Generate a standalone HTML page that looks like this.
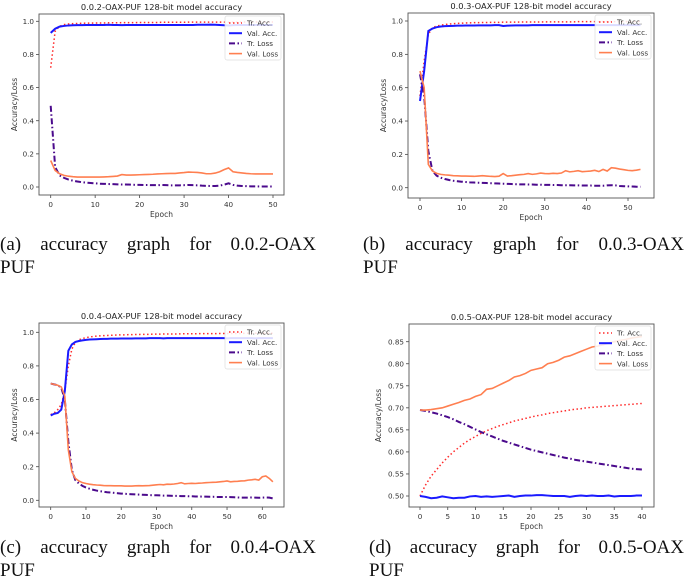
<!DOCTYPE html>
<html><head><meta charset="utf-8"><style>
body{margin:0;background:#fff;width:685px;height:586px;overflow:hidden;position:relative}
svg{position:absolute;left:0;top:0}
.cap{position:absolute;font-family:"Liberation Serif",serif;font-size:19px;line-height:23px;color:#111;text-align:justify;text-align-last:left}
.cap .l1{display:block;text-align:justify;text-align-last:justify}
</style></head><body>
<svg id="fig" width="685" height="586" viewBox="0 0 685 586"></svg>
<div class="cap" style="left:0;top:233px;width:316px"><span class="l1">(a) accuracy graph for 0.0.2-OAX</span>PUF</div>
<div class="cap" style="left:363px;top:233px;width:321px"><span class="l1">(b) accuracy graph for 0.0.3-OAX</span>PUF</div>
<div class="cap" style="left:0;top:536px;width:316px"><span class="l1">(c) accuracy graph for 0.0.4-OAX</span>PUF</div>
<div class="cap" style="left:369px;top:536px;width:315px"><span class="l1">(d) accuracy graph for 0.0.5-OAX</span>PUF</div>
<script>
// ---- panel a data ----
const aTrAcc=[0.72,0.94,0.97,0.98,0.984,0.986,0.987,0.988,0.989,0.989,0.99,0.99,0.99,0.991,0.991,0.991,0.992,0.992,0.992,0.992,0.993,0.993,0.993,0.993,0.993,0.994,0.994,0.994,0.994,0.994,0.994,0.995,0.995,0.995,0.995,0.995,0.995,0.995,0.995,0.995,0.994,0.995,0.995,0.996,0.996,0.996,0.996,0.996,0.996,0.996,0.996];
const aValAcc=[0.93,0.955,0.968,0.972,0.975,0.976,0.977,0.977,0.978,0.978,0.978,0.978,0.978,0.979,0.978,0.978,0.977,0.978,0.978,0.978,0.978,0.978,0.978,0.978,0.978,0.978,0.978,0.978,0.978,0.978,0.978,0.978,0.978,0.979,0.979,0.979,0.98,0.979,0.978,0.976,0.975,0.977,0.978,0.978,0.978,0.978,0.978,0.978,0.978,0.978,0.978];
const aTrLoss=[0.49,0.12,0.07,0.055,0.045,0.038,0.033,0.029,0.026,0.024,0.022,0.02,0.019,0.018,0.017,0.016,0.015,0.015,0.014,0.013,0.013,0.012,0.012,0.011,0.011,0.012,0.011,0.01,0.01,0.01,0.011,0.012,0.011,0.01,0.008,0.007,0.006,0.006,0.008,0.014,0.022,0.013,0.008,0.006,0.005,0.004,0.004,0.003,0.003,0.003,0.003];
const aValLoss=[0.16,0.1,0.08,0.07,0.065,0.062,0.06,0.06,0.06,0.06,0.06,0.06,0.061,0.062,0.064,0.066,0.075,0.072,0.072,0.073,0.074,0.075,0.076,0.077,0.079,0.08,0.081,0.082,0.082,0.085,0.087,0.09,0.089,0.088,0.085,0.08,0.08,0.084,0.092,0.105,0.115,0.092,0.088,0.085,0.082,0.08,0.079,0.079,0.079,0.079,0.079];
// ---- panel b data ----
const bTrAcc=[0.55,0.76,0.92,0.96,0.97,0.975,0.979,0.982,0.984,0.986,0.987,0.988,0.989,0.99,0.99,0.991,0.991,0.992,0.992,0.992,0.993,0.993,0.993,0.993,0.994,0.994,0.994,0.994,0.994,0.994,0.995,0.995,0.995,0.995,0.995,0.995,0.995,0.995,0.996,0.996,0.996,0.996,0.996,0.996,0.996,0.996,0.996,0.996,0.996,0.996,0.996,0.997,0.997,0.997];
const bValAcc=[0.52,0.7,0.94,0.955,0.963,0.967,0.969,0.97,0.971,0.972,0.972,0.973,0.973,0.973,0.974,0.974,0.974,0.974,0.975,0.975,0.97,0.972,0.973,0.974,0.974,0.974,0.974,0.975,0.975,0.975,0.975,0.975,0.975,0.975,0.975,0.975,0.975,0.975,0.975,0.975,0.975,0.975,0.975,0.975,0.975,0.975,0.975,0.975,0.975,0.975,0.975,0.975,0.975,0.975];
const bTrLoss=[0.68,0.55,0.22,0.1,0.072,0.06,0.052,0.046,0.042,0.039,0.036,0.034,0.032,0.031,0.03,0.029,0.028,0.027,0.026,0.025,0.024,0.023,0.022,0.021,0.02,0.02,0.019,0.019,0.018,0.018,0.017,0.017,0.016,0.016,0.015,0.015,0.015,0.014,0.014,0.013,0.013,0.013,0.012,0.012,0.012,0.014,0.015,0.014,0.01,0.009,0.008,0.007,0.006,0.006];
const bValLoss=[0.7,0.6,0.14,0.1,0.086,0.08,0.077,0.075,0.072,0.071,0.07,0.07,0.069,0.068,0.07,0.072,0.07,0.068,0.067,0.069,0.085,0.07,0.072,0.075,0.078,0.08,0.085,0.08,0.083,0.088,0.085,0.084,0.086,0.085,0.088,0.102,0.095,0.098,0.102,0.096,0.098,0.1,0.104,0.097,0.11,0.1,0.12,0.117,0.112,0.108,0.104,0.102,0.105,0.11];
// ---- panel c data ----
const cTrAcc=[0.51,0.52,0.54,0.57,0.65,0.8,0.9,0.94,0.955,0.963,0.968,0.972,0.975,0.977,0.979,0.98,0.981,0.982,0.983,0.984,0.985,0.985,0.986,0.986,0.987,0.987,0.988,0.988,0.988,0.989,0.989,0.989,0.99,0.99,0.99,0.99,0.99,0.991,0.991,0.991,0.991,0.991,0.992,0.992,0.992,0.992,0.992,0.992,0.993,0.993,0.993,0.993,0.993,0.993,0.993,0.994,0.994,0.994,0.994,0.994,0.994,0.994,0.994,0.994];
const cValAcc=[0.505,0.515,0.52,0.54,0.65,0.89,0.928,0.943,0.948,0.952,0.955,0.957,0.958,0.959,0.96,0.961,0.961,0.962,0.962,0.962,0.963,0.963,0.963,0.963,0.964,0.964,0.964,0.964,0.965,0.965,0.965,0.965,0.964,0.965,0.965,0.965,0.965,0.965,0.965,0.965,0.965,0.965,0.965,0.965,0.965,0.965,0.965,0.965,0.965,0.965,0.964,0.965,0.965,0.965,0.965,0.965,0.965,0.965,0.964,0.965,0.965,0.965,0.965,0.965];
const cTrLoss=[0.695,0.69,0.685,0.67,0.6,0.35,0.18,0.12,0.1,0.086,0.076,0.069,0.063,0.058,0.054,0.051,0.048,0.046,0.044,0.042,0.04,0.039,0.037,0.036,0.035,0.034,0.033,0.032,0.031,0.03,0.03,0.029,0.028,0.028,0.027,0.026,0.026,0.025,0.025,0.024,0.024,0.023,0.023,0.022,0.022,0.021,0.021,0.02,0.02,0.02,0.02,0.019,0.018,0.017,0.016,0.016,0.016,0.017,0.016,0.015,0.016,0.017,0.016,0.011];
const cValLoss=[0.695,0.69,0.685,0.675,0.62,0.3,0.17,0.13,0.115,0.105,0.1,0.096,0.093,0.091,0.09,0.088,0.087,0.087,0.086,0.086,0.086,0.085,0.085,0.085,0.086,0.087,0.086,0.087,0.088,0.09,0.092,0.094,0.092,0.096,0.095,0.097,0.1,0.105,0.098,0.1,0.101,0.1,0.102,0.103,0.105,0.106,0.107,0.108,0.11,0.112,0.115,0.11,0.112,0.113,0.115,0.116,0.12,0.122,0.125,0.12,0.14,0.145,0.13,0.11];
// ---- panel d data ----
const dTrAcc=[0.5,0.525,0.545,0.56,0.575,0.588,0.6,0.61,0.62,0.628,0.635,0.642,0.648,0.653,0.658,0.662,0.666,0.67,0.673,0.676,0.679,0.682,0.684,0.687,0.689,0.691,0.693,0.695,0.697,0.698,0.7,0.701,0.702,0.703,0.704,0.705,0.706,0.707,0.708,0.709,0.71];
const dValAcc=[0.5,0.498,0.495,0.496,0.499,0.497,0.495,0.496,0.496,0.499,0.5,0.498,0.499,0.498,0.499,0.5,0.501,0.498,0.5,0.501,0.501,0.502,0.502,0.501,0.5,0.5,0.5,0.498,0.5,0.501,0.5,0.501,0.5,0.5,0.501,0.499,0.5,0.5,0.5,0.501,0.501];
const dTrLoss=[0.695,0.693,0.69,0.687,0.683,0.679,0.674,0.668,0.663,0.657,0.651,0.645,0.64,0.635,0.63,0.625,0.621,0.617,0.613,0.609,0.605,0.602,0.599,0.596,0.593,0.59,0.587,0.585,0.582,0.58,0.578,0.576,0.574,0.572,0.57,0.568,0.566,0.564,0.562,0.561,0.56];
const dValLoss=[0.695,0.695,0.696,0.698,0.7,0.704,0.708,0.712,0.717,0.72,0.726,0.73,0.742,0.744,0.75,0.756,0.762,0.77,0.773,0.778,0.785,0.788,0.791,0.8,0.803,0.808,0.815,0.818,0.823,0.828,0.833,0.838,0.84,0.843,0.847,0.85,0.853,0.855,0.858,0.86,0.862];
// ---- tick labels ----
const accTicks=[0,0.2,0.4,0.6,0.8,1.0];
const dTicks=[0.5,0.55,0.6,0.65,0.7,0.75,0.8,0.85];
const xTicks10=[0,10,20,30,40,50];
const xTicksC=[0,10,20,30,40,50,60];
const xTicksD=[0,5,10,15,20,25,30,35,40];
const legendLabels=["Tr. Acc.","Val. Acc.","Tr. Loss","Val. Loss"];

const NS="http://www.w3.org/2000/svg";
const svg=document.getElementById('fig');
function mk(tag,attrs,parent){const e=document.createElementNS(NS,tag);for(const k in attrs)e.setAttribute(k,attrs[k]);(parent||svg).appendChild(e);return e;}
const STY=[
 {stroke:"#ff2a2a",w:1.5,dash:"1.5,2.5"},
 {stroke:"#1a1aff",w:2,dash:""},
 {stroke:"#4b0a8c",w:2,dash:"6,2.5,1.5,2.5"},
 {stroke:"#ff7f50",w:1.6,dash:""}];
const FONT='"DejaVu Sans","Liberation Sans",sans-serif';

function panel(id,box,title,xd,yd,xticks,yticks,yfmt,series){
  const g=mk('g',{});
  
  
  const X=v=>xd.p0+(v-xd.v0)*(xd.p1-xd.p0)/(xd.v1-xd.v0);
  const Y=v=>yd.p0+(v-yd.v0)*(yd.p1-yd.p0)/(yd.v1-yd.v0);
  const t=mk('text',{x:(box.x0+box.x1)/2,y:box.y0-4,'text-anchor':'middle','font-size':8.3,'font-family':FONT,fill:'#222'},g);
  t.textContent=title;
  
  
  xticks.forEach(v=>{
    const x=X(v);
    mk('line',{x1:x,x2:x,y1:box.y1,y2:box.y1+3,stroke:'#444','stroke-width':0.8},g);
    const tx=mk('text',{x:x,y:box.y1+12,'text-anchor':'middle','font-size':7.2,'font-family':FONT,fill:'#333'},g);
    tx.textContent=v;
    
    
  });
  yticks.forEach(v=>{
    const y=Y(v);
    mk('line',{x1:box.x0-3,x2:box.x0,y1:y,y2:y,stroke:'#444','stroke-width':0.8},g);
    const ty=mk('text',{x:box.x0-5,y:y+2.6,'text-anchor':'end','font-size':7.2,'font-family':FONT,fill:'#333'},g);
    ty.textContent=yfmt(v);
    
    
  });
  const xl=mk('text',{x:(box.x0+box.x1)/2,y:box.y1+22,'text-anchor':'middle','font-size':7.5,'font-family':FONT,fill:'#333'},g);
  xl.textContent='Epoch';
  
  
  const yc=(box.y0+box.y1)/2, yx=box.x0-(yfmt===f2?28:22);
  const yl=mk('text',{x:yx,y:yc,'text-anchor':'middle','font-size':7.5,'font-family':FONT,fill:'#333',transform:`rotate(-90 ${yx} ${yc})`},g);
  yl.textContent='Accuracy/Loss';
  
  
  const cp=mk('clipPath',{id:'clip'+id},g);
  mk('rect',{x:box.x0,y:box.y0,width:box.x1-box.x0,height:box.y1-box.y0},cp);
  const names=['train-accuracy-line','val-accuracy-line','train-loss-line','val-loss-line'];
  series.forEach((arr,i)=>{
    const d=arr.map((v,k)=>(k?'L':'M')+X(k).toFixed(2)+','+Y(v).toFixed(2)).join('');
    const p=mk('path',{d:d,fill:'none',stroke:STY[i].stroke,'stroke-width':STY[i].w,'stroke-dasharray':STY[i].dash,'clip-path':`url(#clip${id})`},g);
    
    
  });
  mk('rect',{x:box.x0,y:box.y0,width:box.x1-box.x0,height:box.y1-box.y0,fill:'none',stroke:'#555','stroke-width':0.9},g);
  // legend
  const lw=56,lx=box.x1-lw-3,ly=box.y0+2;
  const lg=mk('g',{},g);
  
  
  mk('rect',{x:lx,y:ly,width:lw,height:44,rx:2,fill:'#fff','fill-opacity':0.85,stroke:'#ddd','stroke-width':0.7},lg);
  legendLabels.forEach((lab,i)=>{
    const yy=ly+7+i*10.2;
    mk('line',{x1:lx+4,x2:lx+17,y1:yy,y2:yy,stroke:STY[i].stroke,'stroke-width':STY[i].w,'stroke-dasharray':STY[i].dash},lg);
    const tt=mk('text',{x:lx+22,y:yy+2.7,'font-size':7.2,'font-family':FONT,fill:'#333'},lg);
    tt.textContent=lab;
    
    
  });
}
const f1=v=>v.toFixed(1), f2=v=>v.toFixed(2);
panel('a',{x0:39,x1:284,y0:14,y1:195},'0.0.2-OAX-PUF 128-bit model accuracy',
  {v0:0,v1:50,p0:50.7,p1:273},{v0:0,v1:1,p0:187,p1:21.3},xTicks10,accTicks,f1,[aTrAcc,aValAcc,aTrLoss,aValLoss]);
panel('b',{x0:408,x1:654,y0:13,y1:198},'0.0.3-OAX-PUF 128-bit model accuracy',
  {v0:0,v1:50,p0:420,p1:628},{v0:0,v1:1,p0:187.7,p1:21},xTicks10,accTicks,f1,[bTrAcc,bValAcc,bTrLoss,bValLoss]);
panel('c',{x0:39,x1:284,y0:323,y1:507},'0.0.4-OAX-PUF 128-bit model accuracy',
  {v0:0,v1:60,p0:50.7,p1:262.3},{v0:0,v1:1,p0:500.3,p1:332.3},xTicksC,accTicks,f1,[cTrAcc,cValAcc,cTrLoss,cValLoss]);
panel('d',{x0:409,x1:654,y0:324,y1:507},'0.0.5-OAX-PUF 128-bit model accuracy',
  {v0:0,v1:40,p0:420,p1:642},{v0:0.5,v1:0.85,p0:496,p1:341.7},xTicksD,dTicks,f2,[dTrAcc,dValAcc,dTrLoss,dValLoss]);
</script>
</body></html>
